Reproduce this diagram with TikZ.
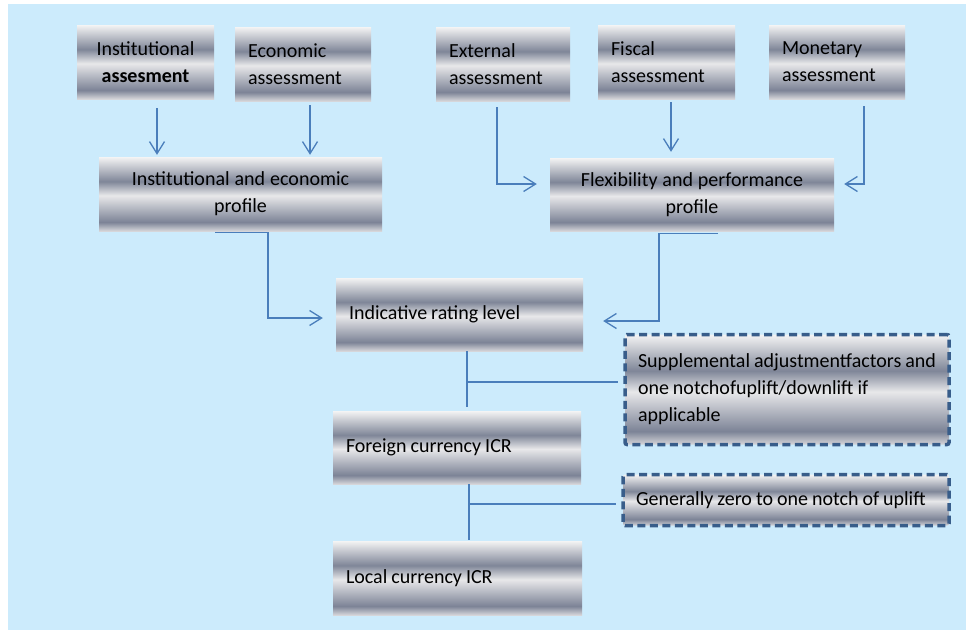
\documentclass[tikz,border=0pt]{standalone}
\usepackage{fontspec}
\setmainfont{Carlito}
\usetikzlibrary{arrows.meta,calc}
\definecolor{bg}{HTML}{CCEBFC}
\definecolor{ln}{HTML}{4A7EBB}
\definecolor{dsh}{HTML}{385D8A}
\definecolor{m1}{HTML}{F4F4F4}
\definecolor{m2}{HTML}{7F8698}
\definecolor{m3}{HTML}{E8E8EA}
\definecolor{m4}{HTML}{7C8396}
\definecolor{m5}{HTML}{D6D6DA}
\pgfdeclareverticalshading{metal}{100bp}{color(0bp)=(m5); color(25bp)=(m5); color(31bp)=(m4); color(49bp)=(m3); color(58.5bp)=(m2); color(75bp)=(m1); color(100bp)=(m1)}
\newcommand\myboxfont{\fontsize{20}{27}\selectfont}
\newcommand\mytightsp{\spaceskip=0.2em plus 0.1em minus 0.03em\relax\xspaceskip=0.2em\relax\hyphenpenalty=10000\relax}
\tikzset{
  box/.style={shading=metal, inner xsep=13pt, inner ysep=0pt, minimum height=74pt,
    font=\myboxfont, text=black, execute at begin node=\mytightsp},
  dbox/.style={box, draw=dsh, line width=3.5pt, dash pattern=on 8pt off 4.5pt, rounded corners=2pt},
  ln/.style={draw=ln, line width=1.3pt},
  arr/.style={ln, -{Straight Barb[length=12pt,width=15pt]}}
}
\begin{document}
\begin{tikzpicture}[x=1pt,y=-1pt]
\useasboundingbox (0,0) rectangle (966,630);
\fill[white] (0,0) rectangle (966,630);
\fill[bg] (8,4) rectangle (966,630);

\node[box, text width=111pt, align=center] (inst) at (145.5,62) {Institutional\\\textbf{assesment}};
\node[box, text width=110pt, align=left] (econ) at (303,64) {Economic\\assessment};
\node[box, text width=108pt, align=left] (ext) at (503,64) {External\\assessment};
\node[box, text width=111pt, align=left] (fisc) at (666.5,62) {Fiscal\\assessment};
\node[box, text width=110pt, align=left] (mon) at (837,62) {Monetary\\assessment};
\node[box, text width=257pt, align=center] (iep) at (240.5,194) {Institutional and economic\\profile};
\node[box, text width=258pt, align=center, minimum height=73pt] (fpp) at (692,194.5) {Flexibility and performance\\profile};
\node[box, text width=221pt, align=left, minimum height=73pt] (irl) at (459.5,314.5) {Indicative rating level};
\node[dbox, text width=298pt, align=left, minimum height=110pt] (sup) at (787,389.5) {Supplemental adjustmentfactors and\\one notchofuplift/downlift if\\applicable};
\node[dbox, text width=300pt, align=left, minimum height=51pt] (gen) at (786,500) {Generally zero to one notch of uplift};
\node[box, text width=222pt, align=left, minimum height=73pt] (fcr) at (457,447.5) {Foreign currency ICR};
\node[box, text width=223pt, align=left] (lcr) at (457.5,578) {Local currency ICR};

% arrows into profiles
\coordinate (a1) at ([xshift=11.5pt,yshift=-9pt]inst.south);
\draw[arr, shorten >=2pt] (a1) -- (a1 |- iep.north);
\coordinate (a2) at ([xshift=7pt,yshift=-4pt]econ.south);
\draw[arr, shorten >=2pt] (a2) -- (a2 |- iep.north);
\coordinate (a3) at ([xshift=-6pt,yshift=-6pt]ext.south);
\coordinate (b3) at ([yshift=10.5pt]fpp.west);
\draw[arr, shorten >=13pt] (a3) |- (b3);
\coordinate (a4) at ([xshift=4.5pt,yshift=-3pt]fisc.south);
\draw[arr, shorten >=6pt] (a4) -- (a4 |- fpp.north);
\coordinate (a5) at ([xshift=27pt,yshift=-7pt]mon.south);
\coordinate (b5) at ([yshift=10.5pt]fpp.east);
\draw[arr, shorten >=10pt] (a5) |- (b5);

% profiles into indicative rating level
\coordinate (a6) at ([xshift=-25.5pt,yshift=-1pt]iep.south);
\coordinate (b6) at ([yshift=-3.5pt]irl.west);
\draw[arr, shorten >=13pt] (a6) -- ++(53,0) |- (b6);
\coordinate (a7) at ([xshift=26pt,yshift=-2pt]fpp.south);
\coordinate (b7) at ([yshift=-6.5pt]irl.east);
\draw[arr, shorten >=20pt] (a7) -- ++(-59,0) |- (b7);

% vertical chain
\coordinate (c1) at ([xshift=7.5pt]irl.south);
\draw[ln, shorten >=4pt] (c1) -- (c1 |- fcr.north);
\coordinate (c2) at ([xshift=12pt]fcr.south);
\draw[ln, shorten >=1pt] (c2) -- (c2 |- lcr.north);

% side adjustments
\coordinate (d1) at ([yshift=7.5pt]sup.west);
\draw[ln, shorten >=5pt] (d1 -| c1) -- (d1);
\coordinate (d2) at ([yshift=-4pt]gen.west);
\draw[ln, shorten >=5pt] (d2 -| c2) -- (d2);
\end{tikzpicture}
\end{document}
